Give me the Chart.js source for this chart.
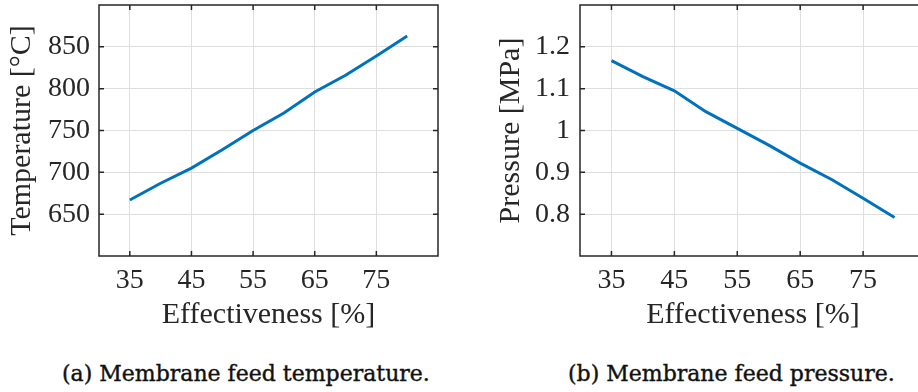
<!DOCTYPE html>
<html>
<head>
<meta charset="utf-8">
<title>Membrane feed conditions</title>
<script src="https://cdn.jsdelivr.net/npm/chart.js@4.4.0/dist/chart.umd.min.js"></script>
<style>
  html, body {
    margin: 0;
    padding: 0;
    width: 918px;
    height: 392px;
    overflow: hidden;
    background: #ffffff;
  }
  canvas {
    position: absolute;
    top: 0;
  }
  #tempChart { left: 0; }
  #pressChart { left: 480px; }
  .caption {
    position: absolute;
    top: 362px;
    height: 24px;
    line-height: 24px;
    font-family: 'DejaVu Serif', serif;
    font-size: 22px;
    color: #111111;
    -webkit-text-stroke: 0.4px #111111;
    white-space: nowrap;
  }
</style>
</head>
<body>
<canvas id="tempChart" width="459" height="340"></canvas>
<canvas id="pressChart" width="480" height="340"></canvas>
<div class="caption" style="left: 62px;">(a) Membrane feed temperature.</div>
<div class="caption" style="left: 568px;">(b) Membrane feed pressure.</div>

<script>
'use strict';

// DATA

let effectiveness = [35, 40, 45, 50, 55, 60, 65, 70, 75, 80];
let feedTemperature = [667, 687, 705, 727, 750, 771, 796, 816, 839, 863];
let feedPressure = [1.167, 1.129, 1.095, 1.045, 1.005, 0.965, 0.922, 0.883, 0.838, 0.792];

let effectivenessTicks = [35, 45, 55, 65, 75];
let temperatureTicks = [650, 700, 750, 800, 850];
let pressureTicks = [0.8, 0.9, 1.0, 1.1, 1.2];

// STYLE

let axisColor = '#262626';
let gridColor = '#dedede';
let lineColor = '#0072BD';
let serif = "'Liberation Serif', 'Times New Roman', serif";

// draws the box around the plot and the small inward tick marks on all four sides
let frameTicks = {
  id: 'frameTicks',
  afterDatasetsDraw(chart) {
    let ctx = chart.ctx;
    let a = chart.chartArea;
    let x = chart.scales.x;
    let y = chart.scales.y;
    let len = 5;
    ctx.save();
    ctx.strokeStyle = axisColor;
    ctx.lineWidth = 1.5;
    ctx.beginPath();
    for (let i = 0; i < x.ticks.length; i++) {
      let px = x.getPixelForValue(x.ticks[i].value);
      ctx.moveTo(px, a.bottom);
      ctx.lineTo(px, a.bottom - len);
      ctx.moveTo(px, a.top);
      ctx.lineTo(px, a.top + len);
    }
    for (let i = 0; i < y.ticks.length; i++) {
      let py = y.getPixelForValue(y.ticks[i].value);
      ctx.moveTo(a.left, py);
      ctx.lineTo(a.left + len, py);
      ctx.moveTo(a.right, py);
      ctx.lineTo(a.right - len, py);
    }
    ctx.stroke();
    ctx.strokeRect(a.left, a.top, a.right - a.left, a.bottom - a.top);
    ctx.restore();
  }
};

function toPoints(xs, ys) {
  let pts = [];
  for (let i = 0; i < xs.length; i++) {
    pts.push({ x: xs[i], y: ys[i] });
  }
  return pts;
}

function formatPressure(value) {
  return Number(value.toFixed(1)).toString();
}

// opts: canvas id, y values, y ticks, y range, y title, layout numbers
function makeChart(opts) {
  let config = {
    type: 'line',
    data: {
      datasets: [
        {
          data: toPoints(effectiveness, opts.values),
          borderColor: lineColor,
          borderWidth: 3,
          pointRadius: 0,
          tension: 0,
          fill: false
        }
      ]
    },
    options: {
      responsive: false,
      animation: false,
      devicePixelRatio: 1,
      layout: {
        padding: { top: 5, right: opts.padRight, left: 0, bottom: 0 }
      },
      plugins: {
        legend: { display: false },
        tooltip: { enabled: false }
      },
      scales: {
        x: {
          type: 'linear',
          min: 30,
          max: 85,
          afterBuildTicks: function(scale) {
            scale.ticks = effectivenessTicks.map(v => ({ value: v }));
          },
          afterFit: function(scale) {
            scale.height = 84;
            scale.paddingLeft = 0;
            scale.paddingRight = 0;
          },
          grid: { color: gridColor, lineWidth: 1, drawTicks: false },
          border: { display: false },
          ticks: {
            color: axisColor,
            padding: 8,
            maxRotation: 0,
            font: { family: serif, size: 28 }
          },
          title: {
            display: true,
            text: 'Effectiveness [%]',
            color: axisColor,
            padding: { top: 0, bottom: 7 },
            font: { family: serif, size: 30 }
          }
        },
        y: {
          type: 'linear',
          min: opts.min,
          max: opts.max,
          afterBuildTicks: function(scale) {
            scale.ticks = opts.ticks.map(v => ({ value: v }));
          },
          afterFit: function(scale) {
            scale.width = opts.axisWidth;
            scale.paddingTop = 0;
            scale.paddingBottom = 0;
          },
          grid: { color: gridColor, lineWidth: 1, drawTicks: false },
          border: { display: false },
          ticks: {
            color: axisColor,
            padding: opts.labelGap,
            font: { family: serif, size: 28 },
            callback: opts.format
          },
          title: {
            display: true,
            text: opts.title,
            color: axisColor,
            padding: { top: opts.titleGap, bottom: 0 },
            font: { family: serif, size: 30 }
          }
        }
      }
    },
    plugins: [frameTicks]
  };
  let canvas = document.getElementById(opts.id).getContext('2d');
  return new Chart(canvas, config);
}

makeChart({
  id: 'tempChart',
  values: feedTemperature,
  ticks: temperatureTicks,
  min: 600,
  max: 900,
  title: 'Temperature [°C]',
  format: v => String(v),
  axisWidth: 99,
  padRight: 21,
  labelGap: 9,
  titleGap: 4
});

makeChart({
  id: 'pressChart',
  values: feedPressure,
  ticks: pressureTicks,
  min: 0.7,
  max: 1.3,
  title: 'Pressure [MPa]',
  format: formatPressure,
  axisWidth: 100,
  padRight: 34,
  labelGap: 10,
  titleGap: 13
});
</script>
</body>
</html>
